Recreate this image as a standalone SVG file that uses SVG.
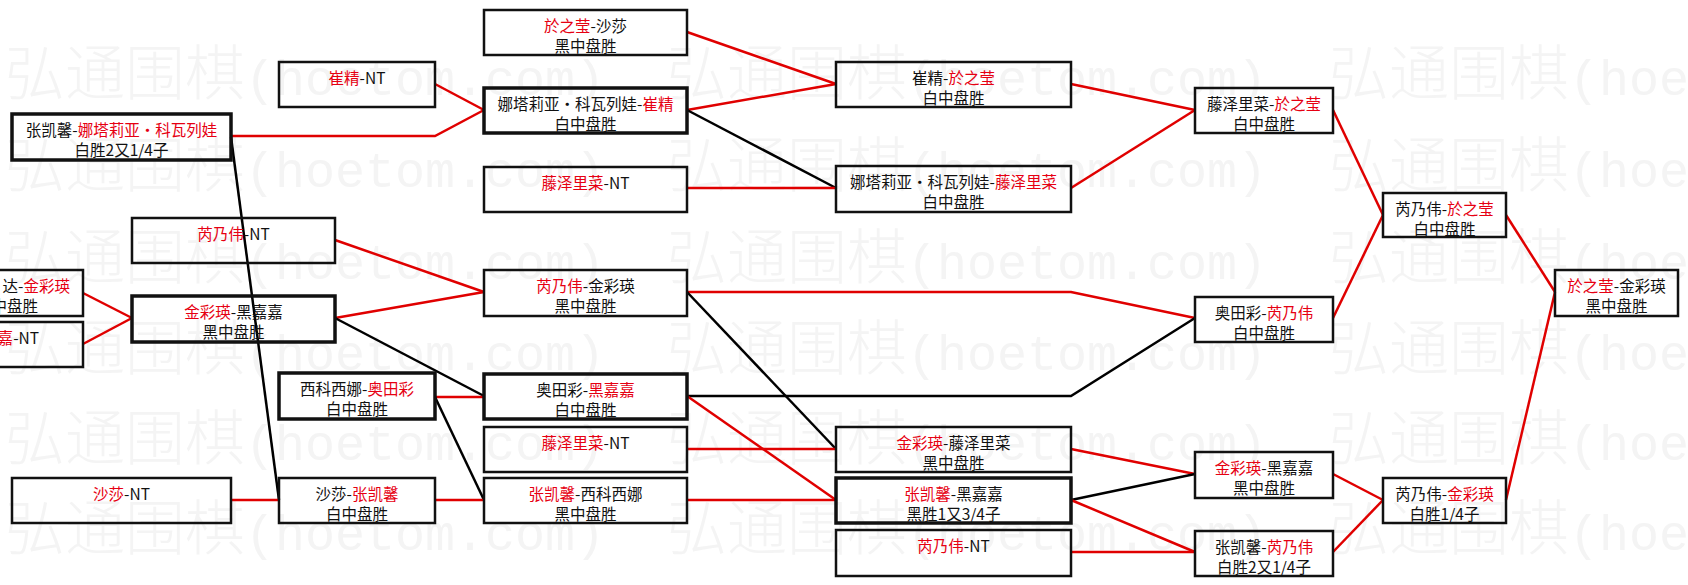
<svg xmlns="http://www.w3.org/2000/svg" width="1688" height="585" viewBox="0 0 1688 585">
<style>
.bg{fill:#ffffff}
.wm{font-family:"Noto Sans CJK SC","Noto Sans",sans-serif;font-size:60px;font-weight:300;fill:#f4f4f4}
.wml{font-family:"Liberation Mono",monospace;font-size:50px}
.b{fill:none;stroke:#111;stroke-width:2.5}
.bt{stroke-width:3.5}
.t{font-family:"Noto Sans CJK SC","Noto Sans",sans-serif;font-size:15.5px;fill:#111;text-anchor:middle}
.te{text-anchor:end}
.r{fill:#e60012}
.cr{fill:none;stroke:#e00000;stroke-width:2.5}
.ck{fill:none;stroke:#000;stroke-width:2.5}
</style>
<rect class="bg" x="0" y="0" width="1688" height="585"/>
<g id="watermark">
<text class="wm" x="5" y="95">弘通围棋<tspan class="wml">(hoetom.com)</tspan></text>
<text class="wm" x="667" y="95">弘通围棋<tspan class="wml">(hoetom.com)</tspan></text>
<text class="wm" x="1329" y="95">弘通围棋<tspan class="wml">(hoetom.com)</tspan></text>
<text class="wm" x="5" y="187">弘通围棋<tspan class="wml">(hoetom.com)</tspan></text>
<text class="wm" x="667" y="187">弘通围棋<tspan class="wml">(hoetom.com)</tspan></text>
<text class="wm" x="1329" y="187">弘通围棋<tspan class="wml">(hoetom.com)</tspan></text>
<text class="wm" x="5" y="279">弘通围棋<tspan class="wml">(hoetom.com)</tspan></text>
<text class="wm" x="667" y="279">弘通围棋<tspan class="wml">(hoetom.com)</tspan></text>
<text class="wm" x="1329" y="279">弘通围棋<tspan class="wml">(hoetom.com)</tspan></text>
<text class="wm" x="5" y="370">弘通围棋<tspan class="wml">(hoetom.com)</tspan></text>
<text class="wm" x="667" y="370">弘通围棋<tspan class="wml">(hoetom.com)</tspan></text>
<text class="wm" x="1329" y="370">弘通围棋<tspan class="wml">(hoetom.com)</tspan></text>
<text class="wm" x="5" y="460">弘通围棋<tspan class="wml">(hoetom.com)</tspan></text>
<text class="wm" x="667" y="460">弘通围棋<tspan class="wml">(hoetom.com)</tspan></text>
<text class="wm" x="1329" y="460">弘通围棋<tspan class="wml">(hoetom.com)</tspan></text>
<text class="wm" x="5" y="550">弘通围棋<tspan class="wml">(hoetom.com)</tspan></text>
<text class="wm" x="667" y="550">弘通围棋<tspan class="wml">(hoetom.com)</tspan></text>
<text class="wm" x="1329" y="550">弘通围棋<tspan class="wml">(hoetom.com)</tspan></text>
</g>
<g id="connectors">
<polyline class="cr" points="435,84 484,110"/>
<polyline class="cr" points="231,136 435,136 484,110"/>
<polyline class="ck" points="231,137 279,500"/>
<polyline class="cr" points="83,293 132,318"/>
<polyline class="cr" points="83,344 132,318"/>
<polyline class="cr" points="335,240 484,292"/>
<polyline class="cr" points="335,318 484,292"/>
<polyline class="ck" points="335,318 484,396"/>
<polyline class="cr" points="435,397 484,397"/>
<polyline class="ck" points="435,397 484,500"/>
<polyline class="cr" points="231,500 279,500"/>
<polyline class="cr" points="435,500 484,500"/>
<polyline class="cr" points="687,32 836,84"/>
<polyline class="cr" points="687,110 836,84"/>
<polyline class="ck" points="687,110 836,188"/>
<polyline class="cr" points="687,188 836,188"/>
<polyline class="cr" points="687,292 1071,292 1195,318"/>
<polyline class="ck" points="687,292 836,449"/>
<polyline class="ck" points="687,396 1071,396 1195,318"/>
<polyline class="cr" points="687,396 836,500"/>
<polyline class="cr" points="687,449 836,449"/>
<polyline class="cr" points="687,500 836,500"/>
<polyline class="cr" points="1071,84 1195,110"/>
<polyline class="cr" points="1071,188 1195,110"/>
<polyline class="cr" points="1071,449 1195,474"/>
<polyline class="ck" points="1071,500 1195,474"/>
<polyline class="cr" points="1071,500 1195,552"/>
<polyline class="cr" points="1071,552 1195,552"/>
<polyline class="cr" points="1333,110 1383,215"/>
<polyline class="cr" points="1333,318 1383,215"/>
<polyline class="cr" points="1333,474 1383,500"/>
<polyline class="cr" points="1333,552 1383,500"/>
<polyline class="cr" points="1506,215 1555,292"/>
<polyline class="cr" points="1506,500 1555,292"/>
</g>
<g id="n-a1"><rect class="b bt" x="12" y="114" width="219" height="46"/><text class="t" x="121.5" y="136">张凯馨-<tspan class="r">娜塔莉亚・科瓦列娃</tspan></text><text class="t" x="121.5" y="155.5">白胜2又1/4子</text></g>
<g id="n-a2"><rect class="b" x="12" y="478" width="219" height="45"/><text class="t" x="121.5" y="500"><tspan class="r">沙莎</tspan>-NT</text></g>
<g id="n-l1"><rect class="b" x="-150" y="270" width="233" height="46"/><text class="t te" x="70" y="292">达-<tspan class="r">金彩瑛</tspan></text><text class="t te" x="38" y="311.5">中盘胜</text></g>
<g id="n-l2"><rect class="b" x="-150" y="322" width="233" height="45"/><text class="t te" x="39" y="344"><tspan class="r">嘉</tspan>-NT</text></g>
<g id="n-b1"><rect class="b" x="132" y="218" width="203" height="45"/><text class="t" x="233.5" y="240"><tspan class="r">芮乃伟</tspan>-NT</text></g>
<g id="n-b2"><rect class="b bt" x="132" y="296" width="203" height="46"/><text class="t" x="233.5" y="318"><tspan class="r">金彩瑛</tspan>-黑嘉嘉</text><text class="t" x="233.5" y="337.5">黑中盘胜</text></g>
<g id="n-c1"><rect class="b" x="279" y="62" width="156" height="45"/><text class="t" x="357" y="84"><tspan class="r">崔精</tspan>-NT</text></g>
<g id="n-c2"><rect class="b bt" x="279" y="373" width="156" height="46"/><text class="t" x="357" y="395">西科西娜-<tspan class="r">奥田彩</tspan></text><text class="t" x="357" y="414.5">白中盘胜</text></g>
<g id="n-c3"><rect class="b" x="279" y="478" width="156" height="45"/><text class="t" x="357" y="500">沙莎-<tspan class="r">张凯馨</tspan></text><text class="t" x="357" y="519.5">白中盘胜</text></g>
<g id="n-d1"><rect class="b" x="484" y="10" width="203" height="45"/><text class="t" x="585.5" y="32"><tspan class="r">於之莹</tspan>-沙莎</text><text class="t" x="585.5" y="51.5">黑中盘胜</text></g>
<g id="n-d2"><rect class="b bt" x="484" y="88" width="203" height="45"/><text class="t" x="585.5" y="110">娜塔莉亚・科瓦列娃-<tspan class="r">崔精</tspan></text><text class="t" x="585.5" y="129.5">白中盘胜</text></g>
<g id="n-d3"><rect class="b" x="484" y="167" width="203" height="45"/><text class="t" x="585.5" y="189"><tspan class="r">藤泽里菜</tspan>-NT</text></g>
<g id="n-d4"><rect class="b" x="484" y="270" width="203" height="46"/><text class="t" x="585.5" y="292"><tspan class="r">芮乃伟</tspan>-金彩瑛</text><text class="t" x="585.5" y="311.5">黑中盘胜</text></g>
<g id="n-d5"><rect class="b bt" x="484" y="374" width="203" height="45"/><text class="t" x="585.5" y="396">奥田彩-<tspan class="r">黑嘉嘉</tspan></text><text class="t" x="585.5" y="415.5">白中盘胜</text></g>
<g id="n-d6"><rect class="b" x="484" y="427" width="203" height="45"/><text class="t" x="585.5" y="449"><tspan class="r">藤泽里菜</tspan>-NT</text></g>
<g id="n-d7"><rect class="b" x="484" y="478" width="203" height="45"/><text class="t" x="585.5" y="500"><tspan class="r">张凯馨</tspan>-西科西娜</text><text class="t" x="585.5" y="519.5">黑中盘胜</text></g>
<g id="n-e1"><rect class="b" x="836" y="62" width="235" height="45"/><text class="t" x="953.5" y="84">崔精-<tspan class="r">於之莹</tspan></text><text class="t" x="953.5" y="103.5">白中盘胜</text></g>
<g id="n-e2"><rect class="b" x="836" y="166" width="235" height="46"/><text class="t" x="953.5" y="188">娜塔莉亚・科瓦列娃-<tspan class="r">藤泽里菜</tspan></text><text class="t" x="953.5" y="207.5">白中盘胜</text></g>
<g id="n-e3"><rect class="b" x="836" y="427" width="235" height="45"/><text class="t" x="953.5" y="449"><tspan class="r">金彩瑛</tspan>-藤泽里菜</text><text class="t" x="953.5" y="468.5">黑中盘胜</text></g>
<g id="n-e4"><rect class="b bt" x="836" y="478" width="235" height="45"/><text class="t" x="953.5" y="500"><tspan class="r">张凯馨</tspan>-黑嘉嘉</text><text class="t" x="953.5" y="519.5">黑胜1又3/4子</text></g>
<g id="n-e5"><rect class="b" x="836" y="530" width="235" height="46"/><text class="t" x="953.5" y="552"><tspan class="r">芮乃伟</tspan>-NT</text></g>
<g id="n-f1"><rect class="b" x="1195" y="88" width="138" height="45"/><text class="t" x="1264" y="110">藤泽里菜-<tspan class="r">於之莹</tspan></text><text class="t" x="1264" y="129.5">白中盘胜</text></g>
<g id="n-f2"><rect class="b" x="1195" y="297" width="138" height="45"/><text class="t" x="1264" y="319">奥田彩-<tspan class="r">芮乃伟</tspan></text><text class="t" x="1264" y="338.5">白中盘胜</text></g>
<g id="n-f3"><rect class="b" x="1195" y="452" width="138" height="46"/><text class="t" x="1264" y="474"><tspan class="r">金彩瑛</tspan>-黑嘉嘉</text><text class="t" x="1264" y="493.5">黑中盘胜</text></g>
<g id="n-f4"><rect class="b" x="1195" y="531" width="138" height="45"/><text class="t" x="1264" y="553">张凯馨-<tspan class="r">芮乃伟</tspan></text><text class="t" x="1264" y="572.5">白胜2又1/4子</text></g>
<g id="n-g1"><rect class="b" x="1383" y="193" width="123" height="44"/><text class="t" x="1444.5" y="215">芮乃伟-<tspan class="r">於之莹</tspan></text><text class="t" x="1444.5" y="234.5">白中盘胜</text></g>
<g id="n-g2"><rect class="b" x="1383" y="478" width="123" height="45"/><text class="t" x="1444.5" y="500">芮乃伟-<tspan class="r">金彩瑛</tspan></text><text class="t" x="1444.5" y="519.5">白胜1/4子</text></g>
<g id="n-h1"><rect class="b" x="1555" y="270" width="123" height="46"/><text class="t" x="1616.5" y="292"><tspan class="r">於之莹</tspan>-金彩瑛</text><text class="t" x="1616.5" y="311.5">黑中盘胜</text></g>
</svg>
